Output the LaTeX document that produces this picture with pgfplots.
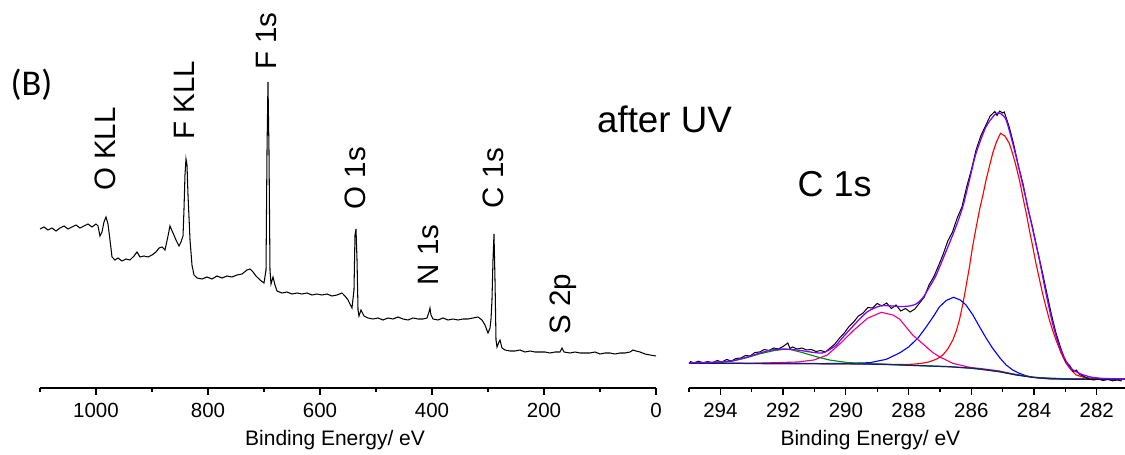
\documentclass[border=0pt]{standalone}
\usepackage{pgfplots}
\pgfplotsset{compat=1.18}
\usepackage{fontspec}
\setmainfont{Liberation Sans}
\newfontfamily\calib{Carlito}
\definecolor{envc}{RGB}{128,0,255}
\definecolor{basec}{RGB}{20,30,110}
\definecolor{grn}{RGB}{0,140,0}
\pgfplotsset{
  xps/.style={
    scale only axis, anchor=south west, clip=false,
    axis x line*=bottom, axis y line=none,
    x dir=reverse, ymin=0, ymax=388, ytick=\empty,
    tick align=outside, major tick length=2.7pt, minor tick length=1.4pt,
    every tick/.style={black, line width=0.5pt},
    axis line style={black, line width=0.55pt},
    ticklabel style={font=\fontsize{8.2}{10}\selectfont},
    /pgf/number format/assume math mode=true,
    /pgf/number format/1000 sep={},
    label style={font=\fontsize{8.4}{10}\selectfont},
    xlabel={Binding Energy/ eV},
  }
}
\begin{document}
\begin{tikzpicture}[x=0.4pt,y=0.4pt]
\useasboundingbox (0,0) rectangle (1125,454);
% survey
\begin{axis}[xps, at={(16pt,26.4pt)}, width=246.4pt, height=155.2pt,
  xmin=0, xmax=1100, xtick={0,200,...,1000}, minor xtick={100,300,...,1100},
  xlabel style={at={(axis description cs:0.479,0)}, anchor=base, yshift=-22.8pt}]
\addplot[black, line width=0.42pt] coordinates {
(1100.0,159) (1092.9,161) (1085.7,158) (1078.6,160) (1071.4,157) (1064.3,160)
(1057.1,162) (1050.0,159) (1042.9,161) (1035.7,163) (1028.6,160) (1021.4,162)
(1014.3,164) (1007.1,161) (1000.0,164) (996.4,162) (992.9,152) (989.3,156)
(985.7,166) (982.1,171) (978.6,164) (975.0,148) (971.4,131) (966.1,128)
(960.7,130) (953.6,127) (946.4,129) (939.3,128) (932.1,132) (926.8,136)
(921.4,131) (914.3,132) (907.1,131) (900.0,133) (892.9,136) (887.5,140)
(882.1,141) (876.8,138) (871.4,152) (867.9,162) (862.5,155) (857.1,148)
(851.8,142) (848.2,146) (844.6,152) (842.9,178) (841.1,213) (839.3,229)
(837.5,223) (835.7,193) (832.1,148) (828.6,123) (825.0,113) (819.6,110)
(810.7,109) (801.8,111) (792.9,109) (783.9,112) (775.0,110) (766.1,112)
(757.1,111) (748.2,113) (739.3,114) (730.4,118) (725.0,119) (719.6,116)
(714.3,112) (707.1,108) (700.0,105) (696.4,118) (694.6,238) (692.9,306)
(691.1,238) (689.3,118) (687.5,104) (683.9,111) (680.4,103) (676.8,97)
(667.9,95) (658.9,96) (650.0,94) (641.1,95) (632.1,94) (623.2,95)
(614.3,93) (605.4,94) (596.4,93) (587.5,94) (578.6,92) (569.6,93)
(560.7,95) (555.4,92) (550.0,88) (542.9,80) (539.3,98) (537.5,153)
(535.7,159) (533.9,128) (532.1,78) (530.4,72) (526.8,78) (521.4,72)
(514.3,70) (505.4,69) (496.4,70) (487.5,68) (478.6,70) (469.6,69)
(460.7,71) (451.8,69) (442.9,68) (433.9,70) (425.0,69) (416.1,69)
(408.9,70) (405.4,76) (403.6,80) (401.8,73) (398.2,69) (389.3,68)
(380.4,70) (371.4,68) (362.5,69) (353.6,68) (344.6,69) (335.7,69)
(326.8,70) (317.9,71) (310.7,68) (305.4,63) (300.0,55) (296.4,60)
(294.6,69) (292.9,88) (291.1,128) (289.3,154) (287.5,108) (285.7,48)
(283.9,41) (280.4,46) (278.6,48) (275.0,40) (269.6,38) (260.7,37)
(251.8,37) (242.9,38) (233.9,36) (225.0,37) (216.1,36) (207.1,36)
(198.2,36) (189.3,35) (180.4,36) (171.4,36) (167.9,40) (164.3,36)
(153.6,35) (144.6,36) (135.7,35) (126.8,35) (117.9,35) (108.9,36)
(100.0,34) (91.1,35) (82.1,35) (73.2,34) (64.3,35) (55.4,35)
(46.4,36) (41.1,38) (35.7,37) (28.6,36) (19.6,34) (10.7,33) (0.0,32)};
\begin{scope}[every node/.style={rotate=90, font=\fontsize{11.8}{14}\selectfont, inner sep=0pt}]
\node at (axis cs:983.9,239) {O KLL};
\node at (axis cs:842.9,288) {F KLL};
\node at (axis cs:696.4,347) {F 1s};
\node at (axis cs:537.5,210) {O 1s};
\node at (axis cs:407.1,133) {N 1s};
\node at (axis cs:291.1,210) {C 1s};
\node at (axis cs:166.1,84) {S 2p};
\end{scope}
\end{axis}
% C 1s high resolution
\begin{axis}[xps, at={(275.6pt,26.4pt)}, width=174.4pt, height=155.2pt,
  xmin=281.1, xmax=295, xtick={282,284,...,294}, minor xtick={283,285,...,295},
  xlabel style={at={(axis description cs:0.416,0)}, anchor=base, yshift=-22.8pt}]
% components
\addplot[red, line width=0.45pt] coordinates {
(295,24.8) (292,24.5) (290,24.2) (289.5,24.1) (288.5,23.6) (288.0,23.5)
(287.6,24.5) (287.33,26.3) (287.1,29) (286.91,33) (286.75,39) (286.59,48)
(286.48,57) (286.38,68) (286.27,84) (286.17,101.3) (286.06,121) (285.96,141.3)
(285.85,160) (285.74,178) (285.63,193) (285.53,208) (285.42,222) (285.32,234.7)
(285.2,246) (285.07,254.7) (284.93,252) (284.79,244.7) (284.68,234) (284.57,221.3)
(284.46,207) (284.36,191.3) (284.25,175) (284.15,158) (284.04,141) (283.94,124.7)
(283.83,109) (283.73,94.7) (283.62,81) (283.51,68) (283.40,57) (283.30,48)
(283.14,35) (282.98,24.7) (282.82,18) (282.66,13) (282.4,10.5) (282.0,9.3) (281.1,8.8)};
\addplot[blue, line width=0.45pt] coordinates {
(295,24.8) (292,24.5) (291,24.4) (290.1,24.5) (289.24,25.3) (288.71,28.7)
(288.29,35) (288.0,41) (287.7,50) (287.44,61) (287.2,72) (287.02,81)
(286.8,87.5) (286.57,90.7) (286.35,88) (286.17,83) (285.95,73) (285.74,61.3)
(285.53,50) (285.32,39.7) (285.1,30.5) (284.89,23) (284.68,18) (284.47,14.7)
(284.25,12.2) (284.04,10.7) (283.7,9.6) (283.3,9.1) (281.1,8.7)};
\addplot[magenta, line width=0.45pt] coordinates {
(295,24.8) (293,24.6) (292.3,25.3) (291.55,26) (291.02,28) (290.59,33)
(290.17,44.7) (289.74,58) (289.31,69.7) (288.87,75.7) (288.5,73) (288.29,69)
(287.87,53) (287.44,41.3) (287.23,35.5) (287.02,31.3) (286.59,24.7) (286.06,20.7)
(285.64,19.2) (285.1,17) (284.6,13.5) (284.04,10.8) (283.51,9.3) (281.1,8.7)};
\addplot[grn, line width=0.45pt] coordinates {
(295,24.8) (294.5,25) (294,25.6) (293.6,27) (293.17,30.2) (292.74,34.2)
(292.32,37.2) (292.0,38.6) (291.8,38.7) (291.37,35.3) (290.94,31.3) (290.52,28)
(289.99,25.6) (289.5,24.5) (289,24.0) (288.29,23.1) (287.5,22.2) (286.7,21.3)
(286.0,19.8) (285.1,16.3) (284.04,10.7) (282.56,8.7) (281.1,8.7)};
% background
\addplot[basec, line width=0.5pt] coordinates {
(295,24.8) (293,24.6) (291,24.4) (290,24.2) (289,23.8) (288.29,23.1)
(287.5,22.2) (286.7,21.3) (286.0,19.8) (285.64,18.7) (285.1,16.3) (284.57,13)
(284.04,10.7) (283.51,9.3) (282.56,8.7) (281.1,8.7)};
% measured spectrum
\addplot[black, line width=0.4pt] coordinates {
(295.0,24.5) (294.95,26.5) (294.85,25.0) (294.7,26.8) (294.55,25.2) (294.4,26.5)
(294.25,25.0) (294.1,27.5) (293.95,26.0) (293.8,28.5) (293.65,27.0) (293.5,29.5)
(293.35,30.0) (293.2,32.5) (293.05,32.0) (292.9,35.5) (292.75,36.0) (292.6,38.5)
(292.45,37.5) (292.3,40.0) (292.15,39.0) (292.0,41.5) (291.85,45.0) (291.78,39.5)
(291.7,41.0) (291.55,39.0) (291.4,40.0) (291.25,38.0) (291.1,38.5) (290.95,36.5)
(290.8,37.5) (290.65,36.0) (290.5,40.0) (290.35,44.0) (290.2,50.0) (290.05,55.0)
(289.9,61.5) (289.75,66.0) (289.6,72.0) (289.45,75.0) (289.3,80.5) (289.15,80.0)
(289.0,84.5) (288.85,82.0) (288.7,85.0) (288.55,79.5) (288.4,83.0) (288.25,77.0)
(288.1,79.5) (287.95,76.0) (287.8,79.0) (287.65,85.0) (287.5,91.0) (287.35,103.0)
(287.2,111.0) (287.05,122.0) (286.9,133.5) (286.75,147.0) (286.6,156.0) (286.45,170.0)
(286.3,181.0) (286.15,201.0) (286.0,218.0) (285.85,238.0) (285.7,252.0) (285.55,262.0)
(285.4,272.0) (285.25,276.5) (285.18,272.5) (285.1,277.0) (285.0,275.0) (284.95,276.0)
(284.8,262.0) (284.65,244.0) (284.5,222.0) (284.35,204.0) (284.2,180.0) (284.05,161.0)
(283.9,139.0) (283.75,118.0) (283.6,96.0) (283.45,74.0) (283.3,55.0) (283.15,40.0)
(283.0,27.0) (282.85,22.0) (282.75,16.5) (282.65,18.0) (282.55,13.5) (282.4,11.5)
(282.25,9.0) (282.1,8.0) (281.95,9.0) (281.8,7.5) (281.65,8.5) (281.5,7.2)
(281.35,8.0) (281.2,7.0)};
% envelope
\addplot[envc, line width=0.5pt, smooth, tension=0.4] coordinates {
(295.0,25.3) (294.5,25.6) (294.0,26.2) (293.6,27.3) (293.17,30.7) (292.74,35)
(292.4,37.8) (292.0,39) (291.55,38) (291.02,35.5) (290.75,35) (290.54,38)
(290.3,43) (290.17,48) (289.74,63) (289.31,76.3) (288.87,82.3) (288.29,81.5)
(287.97,82) (287.76,84) (287.55,90) (287.33,101.3) (287.12,113) (286.70,144.7)
(286.49,161.3) (286.27,181.3) (286.06,208) (285.85,234.7) (285.53,261.3) (285.21,274.7)
(285.05,274) (284.89,268) (284.68,244.7) (284.47,218) (284.25,188) (284.04,158)
(283.83,128) (283.62,94.7) (283.41,64.7) (283.19,41.3) (282.88,21.3) (282.56,14.7)
(282.2,11) (281.8,9.6) (281.1,9.0)};
\node[anchor=base, font=\fontsize{14.4}{17}\selectfont, inner sep=0pt] at (axis cs:290.36,191) {C 1s};
\end{axis}
\node[anchor=base, font=\fontsize{14.7}{18}\selectfont, inner sep=0pt] at (664.5,321) {after UV};
\node[font=\calib\fontsize{14.5}{17}\selectfont, inner sep=0pt] at (31.5,369) {(B)};
\end{tikzpicture}
\end{document}
